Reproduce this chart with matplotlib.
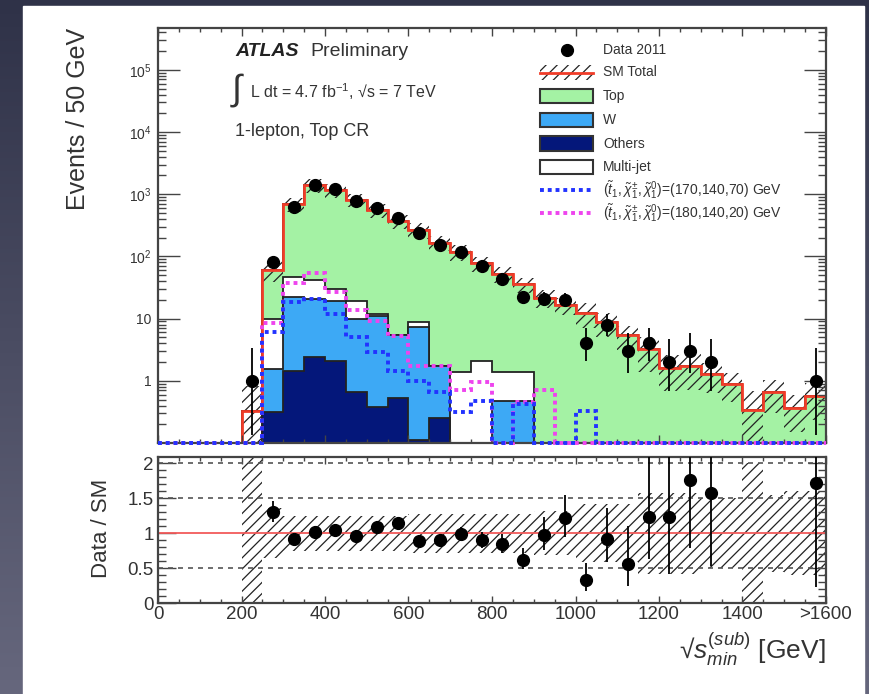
import numpy as np
import matplotlib.pyplot as plt
from matplotlib.patches import Rectangle
from matplotlib.lines import Line2D
from matplotlib.colors import LinearSegmentedColormap

plt.rcParams['font.family'] = ['Liberation Sans', 'DejaVu Sans']
plt.rcParams['mathtext.fontset'] = 'custom'
plt.rcParams['mathtext.rm'] = 'Liberation Sans'
plt.rcParams['mathtext.it'] = 'Liberation Sans:italic'
plt.rcParams['mathtext.bf'] = 'Liberation Sans:bold'
plt.rcParams['hatch.linewidth'] = 0.9

# 50 GeV bins from 0 to 1600 GeV
edges = np.arange(0, 1650, 50)

data = [0, 0, 0, 0, 1, 80, 630, 1420, 1230, 790, 610, 420, 234, 150, 116, 69,
        44, 22, 21, 20, 4, 8, 3, 4, 2, 3, 2, 0, 0, 0, 0, 1]
top = [0, 0, 0, 0, 0, 51.7, 638, 1349, 1150, 801, 548, 359, 257, 165, 116.6, 74.9,
       50.6, 34.1, 21.6, 16.5, 12.4, 8.8, 5.4, 3.25, 1.63, 1.7, 1.27, 0.9, 0.34, 0.67, 0.37, 0.58]
wjets = [0, 0, 0, 0, 0, 1.23, 21.2, 18.1, 17.2, 9.1, 10.6, 5.0, 7.2, 1.45, 0, 0,
         0.48, 0.48, 0, 0, 0, 0, 0, 0, 0, 0, 0, 0, 0, 0, 0, 0]
others = [0, 0, 0, 0, 0, 0.32, 1.46, 2.4, 2.1, 0.66, 0.38, 0.52, 0.11, 0.25, 0, 0,
          0, 0, 0, 0, 0, 0, 0, 0, 0, 0, 0, 0, 0, 0, 0, 0]
multijet = [0, 0, 0, 0, 0.33, 8.25, 24.3, 20.5, 10.4, 9.5, 0.8, 0, 1.4, 0, 1.38, 2.1,
            0.9, 0.9, 0, 0, 0, 0, 0, 0, 0, 0, 0, 0, 0, 0, 0, 0]
# relative systematic uncertainty on the SM total
sm_rel_err = [0, 0, 0, 0, 1.5, 0.36, 0.25, 0.25, 0.25, 0.25, 0.25, 0.25, 0.28, 0.28, 0.28, 0.28,
              0.28, 0.28, 0.32, 0.32, 0.42, 0.42, 0.42, 0.58, 0.58, 0.58, 0.5, 0.5, 1.0, 0.55, 0.6, 0.6]
sig_170_140_70 = [0, 0, 0, 0, 0, 6.0, 18.2, 20.5, 11.8, 5.0, 2.9, 1.46, 1.0, 0.66, 0.32, 0.48,
                  0, 0.43, 0, 0, 0.33, 0, 0, 0, 0, 0, 0, 0, 0, 0, 0, 0]
sig_180_140_20 = [0, 0, 0, 0, 0, 8.5, 37, 55, 27, 14, 9.3, 5.3, 1.76, 1.76, 0.7, 0.95,
                  0, 0.45, 0.7, 0, 0, 0, 0, 0, 0, 0, 0, 0, 0, 0, 0, 0]

legend_labels = ['Data 2011', 'SM Total', 'Top', 'W', 'Others', 'Multi-jet',
                 r'$(\tilde{t}_1,\tilde{\chi}^{\pm}_1,\tilde{\chi}^{0}_1)$=(170,140,70) GeV',
                 r'$(\tilde{t}_1,\tilde{\chi}^{\pm}_1,\tilde{\chi}^{0}_1)$=(180,140,20) GeV']
ytick_vals = [1, 10, 1e2, 1e3, 1e4, 1e5]
ytick_labels = ['1', '10', r'10$^{2}$', r'10$^{3}$', r'10$^{4}$', r'10$^{5}$']
xtick_vals = [0, 200, 400, 600, 800, 1000, 1200, 1400, 1600]
xtick_labels = ['0', '200', '400', '600', '800', '1000', '1200', '1400', '>1600']
rtick_vals = [0, 0.5, 1, 1.5, 2]
rtick_labels = ['0', '0.5', '1', '1.5', '2']

c_top = '#a4f2a4'
c_w = '#3da9f5'
c_oth = '#04177a'
c_mj = '#ffffff'
c_red = '#f03c28'
c_blue = '#2233ff'
c_mag = '#ee44ee'
c_txt = '#333333'
c_axis = '#444444'

data = np.array(data, float)
top, wjets, others, multijet = map(np.array, (top, wjets, others, multijet))
sm_rel_err = np.array(sm_rel_err)
sm = top + wjets + others + multijet
centers = 0.5 * (edges[1:] + edges[:-1])
floor = 1e-3

# approximate Garwood intervals for the data points
err_lo = data - np.sqrt(np.clip(data - 0.25, 0, None))
err_hi = data + 1 + np.sqrt(data + 0.75)

fig = plt.figure(figsize=(8.7, 6.94), dpi=100)

# slide background with white panel
bg = fig.add_axes([0, 0, 1, 1])
grad = np.linspace(0, 1, 256).reshape(-1, 1)
cmap = LinearSegmentedColormap.from_list('bg', ['#2f3248', '#66677d'])
bg.imshow(grad, extent=[0, 1, 0, 1], aspect='auto', cmap=cmap, origin='upper')
bg.add_patch(Rectangle((0.026, 0), 0.967, 0.991, color='white', transform=bg.transAxes))
bg.set_xlim(0, 1)
bg.set_ylim(0, 1)
bg.axis('off')

W, H = 870, 694
ax = fig.add_axes([158 / W, 1 - 443 / H, 668 / W, 415 / H])
ax2 = fig.add_axes([158 / W, 1 - 603 / H, 668 / W, 146 / H])

# stacked backgrounds
lvl1 = others
lvl2 = lvl1 + wjets
lvl3 = lvl2 + multijet
lvl4 = lvl3 + top
for lvl, col in [(lvl4, c_top), (lvl3, c_mj), (lvl2, c_w), (lvl1, c_oth)]:
    ax.stairs(np.maximum(lvl, floor), edges, baseline=floor, fill=True,
              facecolor=col, edgecolor='#222222', linewidth=1.3)

# SM uncertainty band and total
has_sm = sm > 0
hi_band = np.where(has_sm, sm * (1 + sm_rel_err), floor)
lo_band = np.where(has_sm, np.maximum(sm * (1 - sm_rel_err), floor), floor)
ax.stairs(hi_band, edges, baseline=lo_band, fill=True, facecolor='none',
          edgecolor='#222222', hatch='///', linewidth=0)
ax.stairs(np.maximum(sm, floor), edges, baseline=floor, color=c_red, linewidth=2)

# signal points
for sig, col in [(sig_180_140_20, c_mag), (sig_170_140_70, c_blue)]:
    ax.stairs(np.maximum(np.array(sig), 0.1), edges, baseline=None, color=col,
              linestyle=(0, (1, 1)), linewidth=2.8, clip_on=False, zorder=3)

# data
m = data > 0
ax.errorbar(centers[m], data[m], yerr=[data[m] - err_lo[m], err_hi[m] - data[m]],
            fmt='o', color='black', ms=8.5, elinewidth=1.3, capsize=0, zorder=5)

ax.set_yscale('log')
ax.set_xlim(0, 1600)
ax.set_ylim(0.1, 4.7e5)
ax.set_yticks(ytick_vals)
ax.set_yticklabels(ytick_labels)
ax.yaxis.set_minor_locator(plt.matplotlib.ticker.LogLocator(subs=np.arange(2, 10), numticks=20))
ax.yaxis.set_minor_formatter(plt.NullFormatter())
ax.set_xticks(xtick_vals)
ax.set_xticks(np.arange(0, 1650, 50), minor=True)
ax.tick_params(axis='x', labelbottom=False)
ax.tick_params(which='both', direction='in', top=True, right=True, color=c_axis,
               labelcolor=c_txt, labelsize=10, width=1)
ax.tick_params(axis='y', which='major', length=16, pad=4.5)
ax.tick_params(axis='y', which='minor', length=6)
ax.tick_params(axis='x', which='major', length=6)
ax.tick_params(axis='x', which='minor', length=3)
for s in ax.spines.values():
    s.set_color(c_axis)
    s.set_linewidth(1.6)

# legend drawn by hand
def ax_y(ypx):
    return (443 - ypx) / 415.0

def ax_x(xpx):
    return (xpx - 158) / 668.0

rows = [50, 72.5, 96, 120, 143.5, 167, 190, 213]
x0, x1 = ax_x(540), ax_x(593)
bh = 14.5 / 415.0
tr = ax.transAxes
ax.add_line(Line2D([ax_x(567)], [ax_y(rows[0])], marker='o', color='black', ms=8.5,
                   transform=tr, clip_on=False))
ax.add_patch(Rectangle((x0, ax_y(rows[1]) - bh / 2), x1 - x0, bh, transform=tr,
                       facecolor='none', edgecolor='#222222', hatch='///', linewidth=0))
ax.add_line(Line2D([x0, x1], [ax_y(rows[1])] * 2, color=c_red, lw=2, transform=tr))
for r, col in zip(rows[2:6], [c_top, c_w, c_oth, c_mj]):
    ax.add_patch(Rectangle((x0, ax_y(r) - bh / 2), x1 - x0, bh, transform=tr,
                           facecolor=col, edgecolor='#333333', linewidth=1.5, zorder=6))
for r, col in zip(rows[6:], [c_blue, c_mag]):
    ax.add_line(Line2D([x0, x1], [ax_y(r)] * 2, color=col, lw=2.8,
                       linestyle=(0, (1, 1)), transform=tr, zorder=6))
for r, lab in zip(rows, legend_labels):
    ax.text(ax_x(603), ax_y(r), lab, transform=tr, fontsize=10, color=c_txt,
            va='center', ha='left')

# ratio panel
with np.errstate(divide='ignore', invalid='ignore'):
    ratio = np.where(has_sm, data / sm, 0)
    r_lo = np.where(has_sm, err_lo / sm, 0)
    r_hi = np.where(has_sm, err_hi / sm, 0)
band_hi = np.where(has_sm, 1 + sm_rel_err, 1)
band_lo = np.where(has_sm, 1 - sm_rel_err, 1)
ax2.stairs(band_hi, edges, baseline=band_lo, fill=True, facecolor='none',
           edgecolor='#222222', hatch='///', linewidth=0)
for yv in [0.5, 1.5, 2.0]:
    ax2.axhline(yv, color='#555555', linestyle=(0, (3, 3)), linewidth=1.2)
ax2.axhline(1, color='#f25a5a', linewidth=1.3)
mr = (data > 0) & has_sm & (ratio < 2.1)
ax2.errorbar(centers[mr], ratio[mr], yerr=[ratio[mr] - r_lo[mr], r_hi[mr] - ratio[mr]],
             fmt='o', color='black', ms=8.5, elinewidth=1.3, capsize=0, zorder=5)
ax2.set_xlim(0, 1600)
ax2.set_ylim(0, 2.09)
ax2.set_xticks(xtick_vals)
ax2.set_xticklabels(xtick_labels)
ax2.set_xticks(np.arange(0, 1650, 50), minor=True)
ax2.set_yticks(rtick_vals)
ax2.set_yticklabels(rtick_labels)
ax2.set_yticks(np.arange(0, 2.1, 0.1), minor=True)
ax2.tick_params(which='both', direction='in', top=True, right=True, color=c_axis,
                labelcolor=c_txt, labelsize=13.5, width=1)
ax2.tick_params(axis='y', which='major', length=13, pad=3)
ax2.tick_params(axis='y', which='minor', length=6)
ax2.tick_params(axis='x', which='major', length=5, pad=2.5)
ax2.tick_params(axis='x', which='minor', length=3)
for s in ax2.spines.values():
    s.set_color(c_axis)
    s.set_linewidth(1.6)

# axis titles and annotations
fig.text(78 / W, 1 - 28 / H, 'Events / 50 GeV', rotation=90, ha='center', va='top',
         fontsize=18, color=c_txt)
fig.text(102 / W, 1 - 528 / H, 'Data / SM', rotation=90, ha='center', va='center',
         fontsize=16, color=c_txt)
fig.text(826 / W, 1 - 649 / H, r'√$s^{(sub)}_{min}$ [GeV]', ha='right', va='center',
         fontsize=19, color=c_txt)
fig.text(235 / W, 1 - 52 / H, 'ATLAS', fontsize=14, fontweight='bold', fontstyle='italic',
         va='center', color='#222222')
fig.text(310 / W, 1 - 52 / H, 'Preliminary', fontsize=14, va='center', color=c_txt)
fig.text(238 / W, 1 - 90 / H, r'$\int$', fontsize=26, ha='center', va='center', color=c_txt)
fig.text(250 / W, 1 - 92 / H, r'L dt = 4.7 fb$^{-1}$, √s = 7 TeV', fontsize=11.5,
         va='center', color=c_txt)
fig.text(235 / W, 1 - 132 / H, '1-lepton, Top CR', fontsize=13, va='center', color=c_txt)

fig.savefig('out.png', dpi=100)
